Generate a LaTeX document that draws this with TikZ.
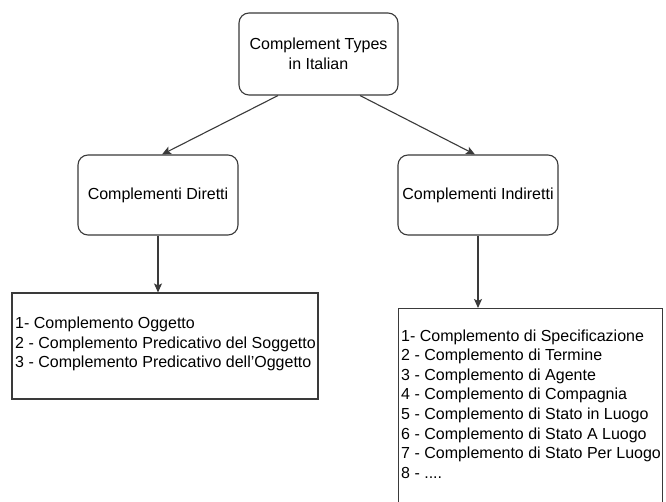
\documentclass[tikz,border=0pt]{standalone}
\usepackage{fontspec}
\setmainfont{Liberation Sans}
\usetikzlibrary{arrows.meta}
\definecolor{edge}{HTML}{3A3A3A}
\tikzset{
  every node/.style={font=\fontsize{16}{19.6}\selectfont, text=black},
  roundbox/.style={draw=edge, line width=1.1pt, rounded corners=10pt, fill=white,
    minimum width=160pt, minimum height=80pt, inner sep=1pt, align=center},
  listbox/.style={draw=edge, line width=1.1pt, rectangle, fill=white, inner sep=0pt},
  listtext/.style={align=left, inner sep=0pt, anchor=west},
  link/.style={draw=edge, line width=1.1pt, -{Stealth[length=9pt,width=8pt,inset=2pt]}}
}
\begin{document}
\begin{tikzpicture}[x=1pt,y=-1pt]
  \clip (0,0) rectangle (666,502);
  \fill[white] (0,0) rectangle (666,502);

  % tree of boxes
  \node[roundbox, minimum width=159pt, minimum height=82pt] (root) at (318.5,54)
    {Complement Types\\in Italian};
  \node[roundbox] (dir) at (158,195) {Complementi Diretti};
  \node[roundbox] (ind) at (478,195) {Complementi Indiretti};

  % list of direct complements
  \node[listbox, minimum width=306pt, minimum height=106pt] (listL) at (165,346) {};
  \node[listtext] (textL) at (15,344) {1- Complemento Oggetto\\
    2 - Complemento Predicativo del Soggetto\\
    3 - Complemento Predicativo dell{\char"27}Oggetto};

  % list of indirect complements (runs past the lower edge)
  \node[listbox, minimum width=264pt, minimum height=240pt, anchor=north west] (listR) at (398,308) {};
  \node[listtext] (textR) at (401,404) {1- Complemento di Specificazione\\
    2 - Complemento di Termine\\
    3 - Complemento di Agente\\
    4 - Complemento di Compagnia\\
    5 - Complemento di Stato in Luogo\\
    6 - Complemento di Stato A Luogo\\
    7 - Complemento di Stato Per Luogo\\
    8 - ....};

  % connectors
  \draw[link] ([xshift=-40.5pt]root.south) -- ([xshift=4pt]dir.north);
  \draw[link] ([xshift=41.5pt]root.south) -- ([xshift=-3pt]ind.north);
  \draw[link] (dir.south) -- (dir.south |- listL.north);
  \draw[link] (ind.south) -- (ind.south |- listR.north);
\end{tikzpicture}
\end{document}
